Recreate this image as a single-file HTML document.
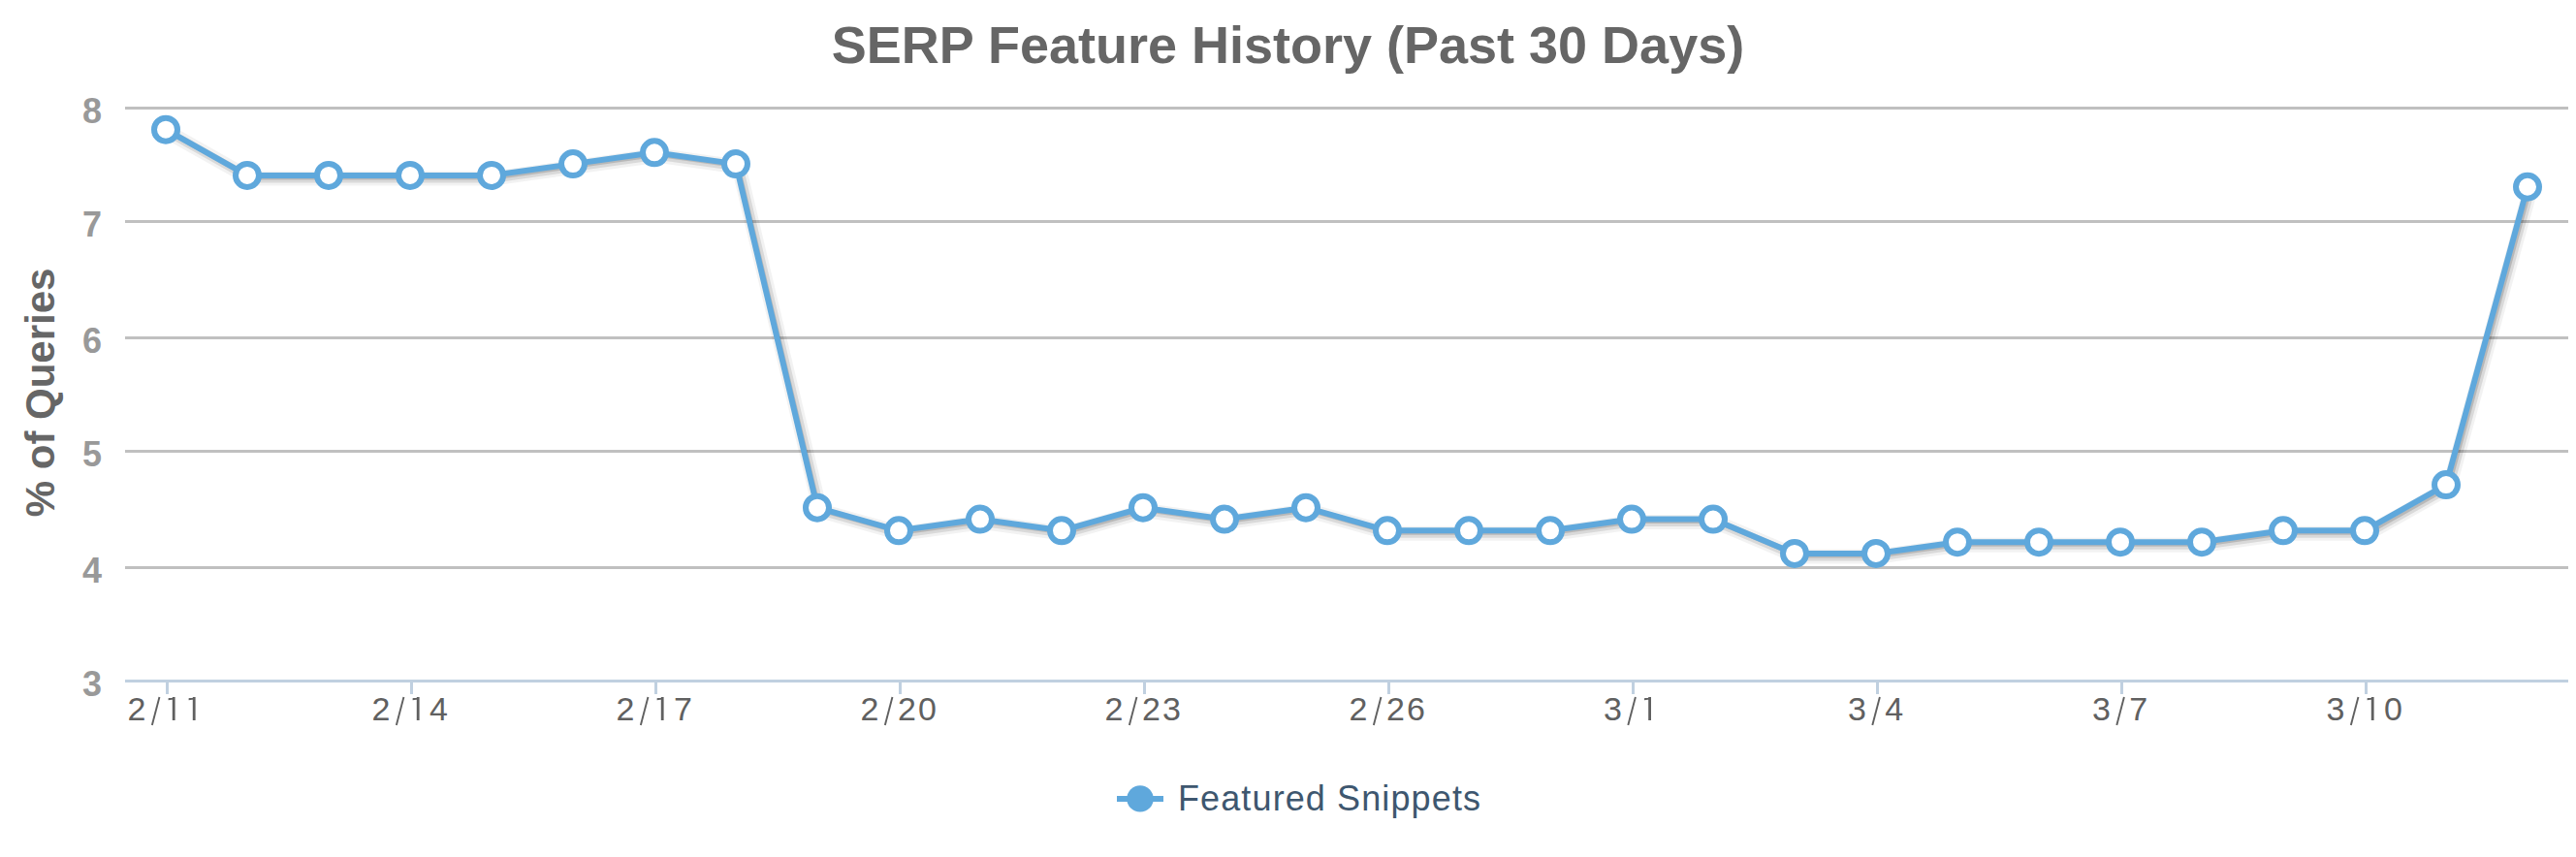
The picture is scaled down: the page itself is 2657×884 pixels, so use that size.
<!DOCTYPE html><html><head><meta charset="utf-8"><style>html,body{margin:0;padding:0;background:#fff;overflow:hidden}svg{display:block}text{font-family:"Liberation Sans",sans-serif}</style></head><body>
<svg width="2657" height="884" viewBox="0 0 2657 884">
<rect width="2657" height="884" fill="#fff"/>
<text transform="translate(1328.5,65) scale(1.0000,1.0000)" x="0" y="0" text-anchor="middle" font-size="54" font-weight="bold" fill="#666666">SERP Feature History (Past 30 Days)</text>
<path d="M129 111.5H2649" stroke="#C0C0C0" stroke-width="3" fill="none"/>
<path d="M129 228.5H2649" stroke="#C0C0C0" stroke-width="3" fill="none"/>
<path d="M129 348.5H2649" stroke="#C0C0C0" stroke-width="3" fill="none"/>
<path d="M129 465.5H2649" stroke="#C0C0C0" stroke-width="3" fill="none"/>
<path d="M129 585.5H2649" stroke="#C0C0C0" stroke-width="3" fill="none"/>
<path d="M129 702.5H2649" stroke="#C0D0E0" stroke-width="3" fill="none"/>
<path d="M172.5 701V716" stroke="#C0D0E0" stroke-width="3" fill="none"/>
<path d="M424.5 701V716" stroke="#C0D0E0" stroke-width="3" fill="none"/>
<path d="M676.5 701V716" stroke="#C0D0E0" stroke-width="3" fill="none"/>
<path d="M928.5 701V716" stroke="#C0D0E0" stroke-width="3" fill="none"/>
<path d="M1180.5 701V716" stroke="#C0D0E0" stroke-width="3" fill="none"/>
<path d="M1432.5 701V716" stroke="#C0D0E0" stroke-width="3" fill="none"/>
<path d="M1684.5 701V716" stroke="#C0D0E0" stroke-width="3" fill="none"/>
<path d="M1936.5 701V716" stroke="#C0D0E0" stroke-width="3" fill="none"/>
<path d="M2188.5 701V716" stroke="#C0D0E0" stroke-width="3" fill="none"/>
<path d="M2440.5 701V716" stroke="#C0D0E0" stroke-width="3" fill="none"/>
<text x="105" y="127.0" text-anchor="end" font-size="36" font-weight="bold" fill="#999999">8</text>
<text x="105" y="244.0" text-anchor="end" font-size="36" font-weight="bold" fill="#999999">7</text>
<text x="105" y="364.0" text-anchor="end" font-size="36" font-weight="bold" fill="#999999">6</text>
<text x="105" y="481.0" text-anchor="end" font-size="36" font-weight="bold" fill="#999999">5</text>
<text x="105" y="601.0" text-anchor="end" font-size="36" font-weight="bold" fill="#999999">4</text>
<text x="105" y="718.0" text-anchor="end" font-size="36" font-weight="bold" fill="#999999">3</text>
<text transform="translate(55.6,404.9) rotate(-90)" x="0" y="0" text-anchor="middle" font-size="42" font-weight="bold" fill="#666666">% of Queries</text>
<text x="131.53" y="743" font-size="34" fill="#606060">2</text>
<path d="M156.85 748L164.45 719" stroke="#606060" stroke-width="1.9" fill="none"/>
<path d="M177.80 719H180.60V743H177.80ZM173.60 720.3L179.20 719L179.20 721.6L173.60 722.3Z" fill="#606060"/>
<path d="M198.80 719H201.60V743H198.80ZM194.60 720.3L200.20 719L200.20 721.6L194.60 722.3Z" fill="#606060"/>
<text x="383.53" y="743" font-size="34" fill="#606060">2</text>
<path d="M408.85 748L416.45 719" stroke="#606060" stroke-width="1.9" fill="none"/>
<path d="M429.80 719H432.60V743H429.80ZM425.60 720.3L431.20 719L431.20 721.6L425.60 722.3Z" fill="#606060"/>
<text x="442.93" y="743" font-size="34" fill="#606060">4</text>
<text x="635.53" y="743" font-size="34" fill="#606060">2</text>
<path d="M660.85 748L668.45 719" stroke="#606060" stroke-width="1.9" fill="none"/>
<path d="M681.80 719H684.60V743H681.80ZM677.60 720.3L683.20 719L683.20 721.6L677.60 722.3Z" fill="#606060"/>
<text x="694.93" y="743" font-size="34" fill="#606060">7</text>
<text x="887.53" y="743" font-size="34" fill="#606060">2</text>
<path d="M912.85 748L920.45 719" stroke="#606060" stroke-width="1.9" fill="none"/>
<text x="925.93" y="743" font-size="34" fill="#606060">2</text>
<text x="946.93" y="743" font-size="34" fill="#606060">0</text>
<text x="1139.53" y="743" font-size="34" fill="#606060">2</text>
<path d="M1164.85 748L1172.45 719" stroke="#606060" stroke-width="1.9" fill="none"/>
<text x="1177.93" y="743" font-size="34" fill="#606060">2</text>
<text x="1198.93" y="743" font-size="34" fill="#606060">3</text>
<text x="1391.53" y="743" font-size="34" fill="#606060">2</text>
<path d="M1416.85 748L1424.45 719" stroke="#606060" stroke-width="1.9" fill="none"/>
<text x="1429.93" y="743" font-size="34" fill="#606060">2</text>
<text x="1450.93" y="743" font-size="34" fill="#606060">6</text>
<text x="1653.93" y="743" font-size="34" fill="#606060">3</text>
<path d="M1679.30 748L1686.90 719" stroke="#606060" stroke-width="1.9" fill="none"/>
<path d="M1700.20 719H1703.00V743H1700.20ZM1696.00 720.3L1701.60 719L1701.60 721.6L1696.00 722.3Z" fill="#606060"/>
<text x="1905.93" y="743" font-size="34" fill="#606060">3</text>
<path d="M1931.30 748L1938.90 719" stroke="#606060" stroke-width="1.9" fill="none"/>
<text x="1944.33" y="743" font-size="34" fill="#606060">4</text>
<text x="2157.93" y="743" font-size="34" fill="#606060">3</text>
<path d="M2183.30 748L2190.90 719" stroke="#606060" stroke-width="1.9" fill="none"/>
<text x="2196.33" y="743" font-size="34" fill="#606060">7</text>
<text x="2399.53" y="743" font-size="34" fill="#606060">3</text>
<path d="M2424.85 748L2432.45 719" stroke="#606060" stroke-width="1.9" fill="none"/>
<path d="M2445.80 719H2448.60V743H2445.80ZM2441.60 720.3L2447.20 719L2447.20 721.6L2441.60 722.3Z" fill="#606060"/>
<text x="2458.93" y="743" font-size="34" fill="#606060">0</text>
<polyline points="171.00,133.64 255.00,180.92 339.00,180.92 423.00,180.92 507.00,180.92 591.00,169.10 675.00,157.28 759.00,169.10 843.00,523.70 927.00,547.34 1011.00,535.52 1095.00,547.34 1179.00,523.70 1263.00,535.52 1347.00,523.70 1431.00,547.34 1515.00,547.34 1599.00,547.34 1683.00,535.52 1767.00,535.52 1851.00,570.98 1935.00,570.98 2019.00,559.16 2103.00,559.16 2187.00,559.16 2271.00,559.16 2355.00,547.34 2439.00,547.34 2523.00,500.06 2607.00,192.74" transform="translate(3,3)" fill="none" stroke="#000" stroke-opacity="0.05" stroke-width="15" stroke-linejoin="round" stroke-linecap="round"/>
<polyline points="171.00,133.64 255.00,180.92 339.00,180.92 423.00,180.92 507.00,180.92 591.00,169.10 675.00,157.28 759.00,169.10 843.00,523.70 927.00,547.34 1011.00,535.52 1095.00,547.34 1179.00,523.70 1263.00,535.52 1347.00,523.70 1431.00,547.34 1515.00,547.34 1599.00,547.34 1683.00,535.52 1767.00,535.52 1851.00,570.98 1935.00,570.98 2019.00,559.16 2103.00,559.16 2187.00,559.16 2271.00,559.16 2355.00,547.34 2439.00,547.34 2523.00,500.06 2607.00,192.74" transform="translate(3,3)" fill="none" stroke="#000" stroke-opacity="0.10" stroke-width="9" stroke-linejoin="round" stroke-linecap="round"/>
<polyline points="171.00,133.64 255.00,180.92 339.00,180.92 423.00,180.92 507.00,180.92 591.00,169.10 675.00,157.28 759.00,169.10 843.00,523.70 927.00,547.34 1011.00,535.52 1095.00,547.34 1179.00,523.70 1263.00,535.52 1347.00,523.70 1431.00,547.34 1515.00,547.34 1599.00,547.34 1683.00,535.52 1767.00,535.52 1851.00,570.98 1935.00,570.98 2019.00,559.16 2103.00,559.16 2187.00,559.16 2271.00,559.16 2355.00,547.34 2439.00,547.34 2523.00,500.06 2607.00,192.74" transform="translate(3,3)" fill="none" stroke="#000" stroke-opacity="0.15" stroke-width="3" stroke-linejoin="round" stroke-linecap="round"/>
<polyline points="171.00,133.64 255.00,180.92 339.00,180.92 423.00,180.92 507.00,180.92 591.00,169.10 675.00,157.28 759.00,169.10 843.00,523.70 927.00,547.34 1011.00,535.52 1095.00,547.34 1179.00,523.70 1263.00,535.52 1347.00,523.70 1431.00,547.34 1515.00,547.34 1599.00,547.34 1683.00,535.52 1767.00,535.52 1851.00,570.98 1935.00,570.98 2019.00,559.16 2103.00,559.16 2187.00,559.16 2271.00,559.16 2355.00,547.34 2439.00,547.34 2523.00,500.06 2607.00,192.74" fill="none" stroke="#5FA8DC" stroke-width="6" stroke-linejoin="round" stroke-linecap="round"/>
<circle cx="171.00" cy="133.64" r="12" fill="#fff" stroke="#5FA8DC" stroke-width="6"/>
<circle cx="255.00" cy="180.92" r="12" fill="#fff" stroke="#5FA8DC" stroke-width="6"/>
<circle cx="339.00" cy="180.92" r="12" fill="#fff" stroke="#5FA8DC" stroke-width="6"/>
<circle cx="423.00" cy="180.92" r="12" fill="#fff" stroke="#5FA8DC" stroke-width="6"/>
<circle cx="507.00" cy="180.92" r="12" fill="#fff" stroke="#5FA8DC" stroke-width="6"/>
<circle cx="591.00" cy="169.10" r="12" fill="#fff" stroke="#5FA8DC" stroke-width="6"/>
<circle cx="675.00" cy="157.28" r="12" fill="#fff" stroke="#5FA8DC" stroke-width="6"/>
<circle cx="759.00" cy="169.10" r="12" fill="#fff" stroke="#5FA8DC" stroke-width="6"/>
<circle cx="843.00" cy="523.70" r="12" fill="#fff" stroke="#5FA8DC" stroke-width="6"/>
<circle cx="927.00" cy="547.34" r="12" fill="#fff" stroke="#5FA8DC" stroke-width="6"/>
<circle cx="1011.00" cy="535.52" r="12" fill="#fff" stroke="#5FA8DC" stroke-width="6"/>
<circle cx="1095.00" cy="547.34" r="12" fill="#fff" stroke="#5FA8DC" stroke-width="6"/>
<circle cx="1179.00" cy="523.70" r="12" fill="#fff" stroke="#5FA8DC" stroke-width="6"/>
<circle cx="1263.00" cy="535.52" r="12" fill="#fff" stroke="#5FA8DC" stroke-width="6"/>
<circle cx="1347.00" cy="523.70" r="12" fill="#fff" stroke="#5FA8DC" stroke-width="6"/>
<circle cx="1431.00" cy="547.34" r="12" fill="#fff" stroke="#5FA8DC" stroke-width="6"/>
<circle cx="1515.00" cy="547.34" r="12" fill="#fff" stroke="#5FA8DC" stroke-width="6"/>
<circle cx="1599.00" cy="547.34" r="12" fill="#fff" stroke="#5FA8DC" stroke-width="6"/>
<circle cx="1683.00" cy="535.52" r="12" fill="#fff" stroke="#5FA8DC" stroke-width="6"/>
<circle cx="1767.00" cy="535.52" r="12" fill="#fff" stroke="#5FA8DC" stroke-width="6"/>
<circle cx="1851.00" cy="570.98" r="12" fill="#fff" stroke="#5FA8DC" stroke-width="6"/>
<circle cx="1935.00" cy="570.98" r="12" fill="#fff" stroke="#5FA8DC" stroke-width="6"/>
<circle cx="2019.00" cy="559.16" r="12" fill="#fff" stroke="#5FA8DC" stroke-width="6"/>
<circle cx="2103.00" cy="559.16" r="12" fill="#fff" stroke="#5FA8DC" stroke-width="6"/>
<circle cx="2187.00" cy="559.16" r="12" fill="#fff" stroke="#5FA8DC" stroke-width="6"/>
<circle cx="2271.00" cy="559.16" r="12" fill="#fff" stroke="#5FA8DC" stroke-width="6"/>
<circle cx="2355.00" cy="547.34" r="12" fill="#fff" stroke="#5FA8DC" stroke-width="6"/>
<circle cx="2439.00" cy="547.34" r="12" fill="#fff" stroke="#5FA8DC" stroke-width="6"/>
<circle cx="2523.00" cy="500.06" r="12" fill="#fff" stroke="#5FA8DC" stroke-width="6"/>
<circle cx="2607.00" cy="192.74" r="12" fill="#fff" stroke="#5FA8DC" stroke-width="6"/>
<path d="M1152 824H1200" stroke="#5FA8DC" stroke-width="6" fill="none"/>
<circle cx="1176" cy="823.9" r="13.7" fill="#5FA8DC"/>
<text x="1215" y="836" font-size="36" fill="#3E576F" textLength="312" lengthAdjust="spacing">Featured Snippets</text>
</svg></body></html>
